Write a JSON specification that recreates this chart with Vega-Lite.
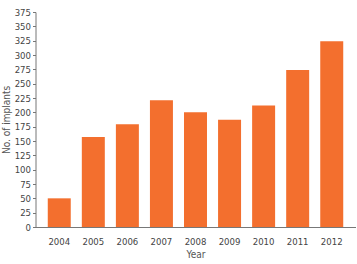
{
  "$schema": "https://vega.github.io/schema/vega-lite/v6.json",
  "autosize": "none",
  "padding": {"left": 35.5, "top": 12, "right": 2, "bottom": 37},
  "width": 320,
  "height": 215,
  "background": "white",
  "config": {"view": {"stroke": null}, "font": "'DejaVu Sans Condensed', 'Liberation Sans', sans-serif"},
  "data": {"values": [
    {"Year": "2004", "Implants": 50},
    {"Year": "2005", "Implants": 157},
    {"Year": "2006", "Implants": 179},
    {"Year": "2007", "Implants": 221},
    {"Year": "2008", "Implants": 200},
    {"Year": "2009", "Implants": 187},
    {"Year": "2010", "Implants": 212},
    {"Year": "2011", "Implants": 274},
    {"Year": "2012", "Implants": 324}
  ]},
  "mark": {"type": "bar", "color": "#F36F2E"},
  "encoding": {
    "x": {
      "field": "Year", "type": "ordinal", "title": "Year",
      "scale": {"paddingInner": 0.325, "paddingOuter": 0.36},
      "axis": {"labelAngle": 0, "ticks": false, "labelPadding": 9, "labelFontSize": 9.5, "labelColor": "#444", "domainColor": "#777", "titleFontSize": 10, "titleFontWeight": "normal", "titleColor": "#555", "titlePadding": 4}
    },
    "y": {
      "field": "Implants", "type": "quantitative", "title": "No. of implants",
      "scale": {"domain": [0, 375], "nice": false},
      "axis": {"values": [0,25,50,75,100,125,150,175,200,225,250,275,300,325,350,375], "grid": false, "tickSize": 3, "tickColor": "#777", "domainColor": "#777", "labelPadding": 2, "labelFontSize": 9.5, "labelColor": "#444", "titleFontSize": 10, "titleFontWeight": "normal", "titleColor": "#555", "titlePadding": 3}
    }
  }
}
